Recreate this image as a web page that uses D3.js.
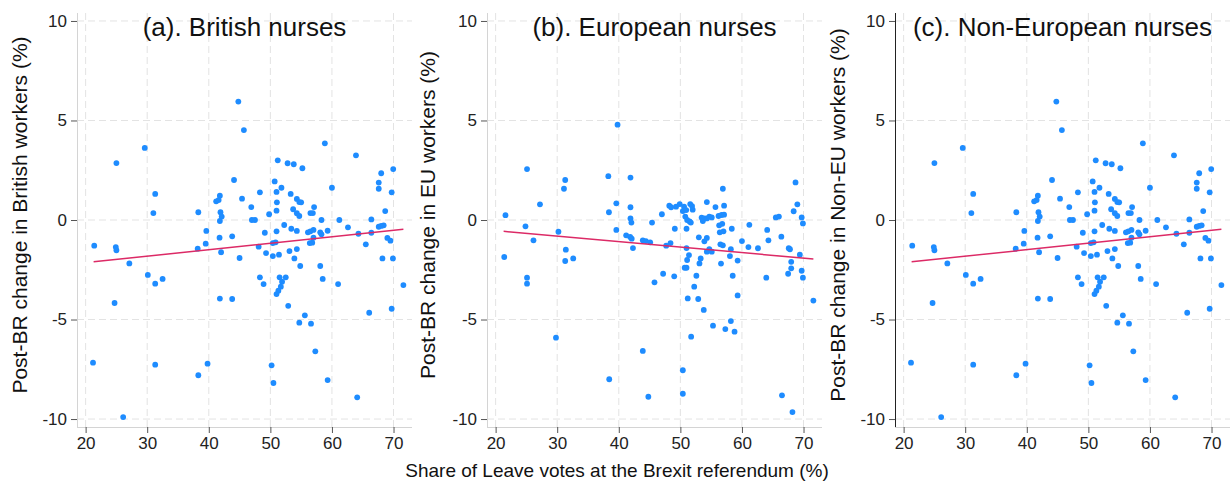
<!DOCTYPE html>
<html><head><meta charset="utf-8">
<script src="https://cdn.jsdelivr.net/npm/d3@7"></script>
<style>
html,body{margin:0;padding:0;background:#fff;}
svg text{font-family:"Liberation Sans",Arial,sans-serif;}
</style></head>
<body>
<svg id="chart" width="1231" height="485"></svg>
<script>
// ---- data ----
const panelTitles = ["(a). British nurses", "(b). European nurses", "(c). Non-European nurses"];
const yTitles = ["Post-BR change in British workers (%)", "Post-BR change in EU workers (%)", "Post-BR change in Non-EU workers (%)"];
const xTitle = "Share of Leave votes at the Brexit referendum (%)";
const xTicks = [20, 30, 40, 50, 60, 70];
const yTicks = [-10, -5, 0, 5, 10];

const leaveShareA = [21.4,21.2,25.0,24.9,25.0,24.7,26.1,27.1,29.6,30.1,31.3,31.0,31.3,32.5,31.3,38.3,38.2,38.3,39.6,39.5,39.8,41.2,41.8,41.6,41.9,42.1,41.8,41.75,42.0,41.8,44.8,45.7,44.1,45.4,43.8,45.0,43.8,46.9,47.0,47.5,48.3,49.1,48.1,49.3,48.3,48.9,49.8,50.2,50.5,50.7,51.2,51.0,51.06,51.0,51.0,50.4,50.85,50.4,51.4,51.5,52.5,51.9,51.7,51.3,51.0,51.8,52.25,52.8,53.8,53.3,53.7,53.4,54.3,53.1,54.3,53.9,52.9,54.3,54.7,55.0,54.3,54.7,55.2,54.85,55.6,54.7,56.6,56.1,56.5,57.0,56.4,56.8,57.0,56.5,56.9,57.1,57.3,58.3,58.1,58.3,58.1,58.5,58.85,59.3,60.0,59.3,61.2,61.0,62.6,63.9,64.3,64.1,65.5,66.05,66.4,66.4,67.6,67.6,68.0,67.6,68.0,68.4,68.65,69.0,69.5,68.2,69.9,69.7,69.95,69.7,71.6];
const britishChange = [-1.29,-7.17,2.86,-1.36,-1.52,-4.17,-9.9,-2.18,3.62,-2.76,1.31,0.35,-3.2,-2.96,-7.27,0.39,-1.44,-7.8,-0.55,-1.19,-7.22,0.94,1.22,1.0,0.39,0.17,-0.05,-0.89,-1.62,-3.95,5.95,4.52,2.01,1.07,-0.82,-1.91,-3.97,0.65,0.0,0.0,1.39,-0.64,-1.34,-1.66,-2.88,-3.22,0.29,-7.3,-8.19,1.94,3.0,1.41,0.89,0.47,-0.57,-1.16,-1.12,-1.81,-1.74,-2.88,-2.88,-3.1,-3.35,-3.55,-3.72,1.62,-0.25,2.85,2.8,1.31,0.54,-0.44,-0.55,-1.56,-1.46,-1.93,-4.31,1.06,0.9,0.89,0.34,0.2,2.6,-2.31,-4.79,-5.16,-5.21,-0.62,-0.57,-0.5,-1.16,-1.14,-0.89,0.35,0.35,0.65,-6.6,0.0,-0.62,-0.72,-2.31,-2.96,3.85,-0.54,1.62,-8.04,0.0,-3.22,-0.37,3.25,-0.69,-8.91,-1.22,-4.66,0.03,-0.64,1.57,1.88,2.35,-0.34,-0.3,-0.27,0.45,-0.9,-1.04,-1.93,-1.93,1.39,2.56,-4.46,-3.27];

const leaveShareB = [21.6,21.4,24.85,25.1,25.1,25.1,26.15,27.2,30.2,29.8,31.1,31.3,31.4,31.3,32.6,38.3,38.4,38.45,39.8,39.6,39.6,41.2,41.9,41.9,41.9,42.05,41.85,42.1,42.3,43.9,44.8,43.9,44.4,45.1,45.4,45.8,47.0,47.2,47.7,48.4,48.2,48.5,49.0,49.1,49.3,49.9,50.4,50.4,50.4,50.6,50.95,51.6,51.9,52.0,50.8,51.1,51.5,51.7,51.0,51.0,51.4,50.7,51.0,51.1,51.2,51.75,52.25,52.6,52.9,53.1,53.3,53.0,53.8,53.45,53.65,53.9,53.9,54.3,54.3,54.3,54.7,55.1,54.3,54.7,55.1,55.3,55.7,56.2,56.7,56.3,56.8,56.4,57.0,56.5,56.9,56.9,57.1,57.1,56.6,57.3,58.2,58.8,58.35,58.2,58.05,58.5,59.3,59.3,60.0,61.2,61.05,62.6,63.95,64.1,64.3,65.5,66.0,66.4,66.5,67.6,67.8,67.5,68.0,68.0,68.4,68.7,69.0,68.2,69.7,69.9,69.4,69.7,69.9,71.6];
const europeanChange = [0.24,-1.86,-0.32,2.56,-2.9,-3.2,-1.02,0.79,-0.59,-5.91,1.57,2.01,-1.49,-2.06,-1.93,2.2,0.39,-8.0,4.79,0.84,-0.5,-0.77,2.13,0.64,0.08,-0.13,-0.85,-0.94,-1.41,-6.58,-8.88,-1.02,-1.06,-1.12,-0.13,-3.13,0.29,-2.7,-1.29,-1.16,0.72,0.64,-2.83,-0.44,0.67,0.8,0.45,-7.55,-8.73,0.67,0.5,0.8,0.7,0.52,0.17,0.0,-0.07,-0.13,-0.44,-1.41,-1.76,-2.4,-2.4,-2.01,-3.94,-5.86,-3.35,-2.8,-3.97,-2.18,-1.93,-0.87,-4.52,0.12,-0.05,0.08,-1.07,-0.9,0.9,-1.59,-1.47,-1.59,0.08,0.17,0.13,-5.31,0.65,0.2,0.25,-0.27,-0.19,-0.62,-0.57,-1.22,-1.27,1.57,0.72,0.27,-2.19,-5.48,-5.08,-5.61,-0.44,-1.47,-1.81,-2.8,-2.04,-3.79,-1.06,-0.24,-1.36,-1.42,-2.9,-0.5,-1.02,0.13,0.17,-0.84,-8.81,-1.42,-1.47,-2.7,-2.43,-2.1,0.44,1.89,0.79,-9.65,0.13,-0.17,-1.74,-2.55,-2.9,-4.05];

// Non-European panel shows the same points as the British panel in the reference
const leaveShareC = leaveShareA;
const nonEuChange = britishChange;

// fitted lines (endpoints)
const fitX = [21.3, 71.6];
const fitBritish = [-2.1, -0.47];
const fitEuropean = [-0.57, -1.96];
const fitNonEu = [-2.1, -0.47];

// ---- drawing ----
const svg = d3.select("#chart");
const plotTop = 13, plotBottom = 427;
const panels = [
  {left: 77, right: 412, xs: leaveShareA, ys: britishChange, fit: fitBritish, darkAxis: false},
  {left: 487, right: 822, xs: leaveShareB, ys: europeanChange, fit: fitEuropean, darkAxis: false},
  {left: 895, right: 1230, xs: leaveShareC, ys: nonEuChange, fit: fitNonEu, darkAxis: true}
];
const yTitleX = [27, 435, 845];

panels.forEach((p, i) => {
  const x = d3.scaleLinear().domain([18.6, 73.0]).range([p.left, p.right]);
  const y = d3.scaleLinear().domain([-10.4, 10.4]).range([plotBottom, plotTop]);
  const g = svg.append("g");

  // grid
  g.selectAll(".gx").data(xTicks).join("line")
    .attr("x1", d => x(d)).attr("x2", d => x(d)).attr("y1", plotTop).attr("y2", plotBottom)
    .attr("stroke", "#e3e3e3").attr("stroke-width", 1).attr("stroke-dasharray", "7,4");
  g.selectAll(".gy").data(yTicks).join("line")
    .attr("y1", d => y(d)).attr("y2", d => y(d)).attr("x1", p.left).attr("x2", p.right)
    .attr("stroke", "#e3e3e3").attr("stroke-width", 1).attr("stroke-dasharray", "7,4");

  // axes
  const xa = g.append("g").attr("transform", `translate(0,${plotBottom})`)
    .call(d3.axisBottom(x).tickValues(xTicks).tickSize(6).tickPadding(4));
  xa.select(".domain").attr("stroke", "#d4d4d4").attr("d", `M${p.left},0.5H${p.right}`);
  xa.selectAll(".tick line").attr("stroke", "#555");
  xa.selectAll(".tick text").attr("font-size", 17).attr("fill", "#222")
    .attr("font-family", "Liberation Sans, Arial, sans-serif");

  const ya = g.append("g").attr("transform", `translate(${p.left},0)`)
    .call(d3.axisLeft(y).tickValues(yTicks).tickSize(6).tickPadding(4));
  ya.select(".domain").attr("stroke", p.darkAxis ? "#222" : "#d4d4d4").attr("d", `M0.5,${plotTop}V${plotBottom}`);
  ya.selectAll(".tick line").attr("stroke", "#555");
  ya.selectAll(".tick text").attr("font-size", 17).attr("fill", "#222")
    .attr("font-family", "Liberation Sans, Arial, sans-serif")
    .text(d => d < 0 ? "-" + Math.abs(d) : d);

  // points
  const pts = p.xs.map((v, k) => [v, p.ys[k]]);
  g.selectAll(".pt").data(pts).join("circle")
    .attr("cx", d => x(d[0])).attr("cy", d => y(d[1])).attr("r", 2.9)
    .attr("fill", "#1e8cff");

  // fit line
  const line = d3.line().x(d => x(d[0])).y(d => y(d[1]));
  g.append("path").datum(fitX.map((v, k) => [v, p.fit[k]]))
    .attr("d", line).attr("fill", "none").attr("stroke", "#dc2a66").attr("stroke-width", 1.5);

  // title
  g.append("text").attr("x", (p.left + p.right) / 2).attr("y", 36)
    .attr("text-anchor", "middle").attr("font-size", 26).attr("fill", "#111")
    .text(panelTitles[i]);

  // y title
  g.append("text").attr("transform", `translate(${yTitleX[i]},215) rotate(-90)`)
    .attr("text-anchor", "middle").attr("font-size", 21).attr("fill", "#111")
    .text(yTitles[i]);
});

svg.append("text").attr("x", 617).attr("y", 477).attr("text-anchor", "middle")
  .attr("font-size", 19).attr("fill", "#111").text(xTitle);
</script>
</body></html>
